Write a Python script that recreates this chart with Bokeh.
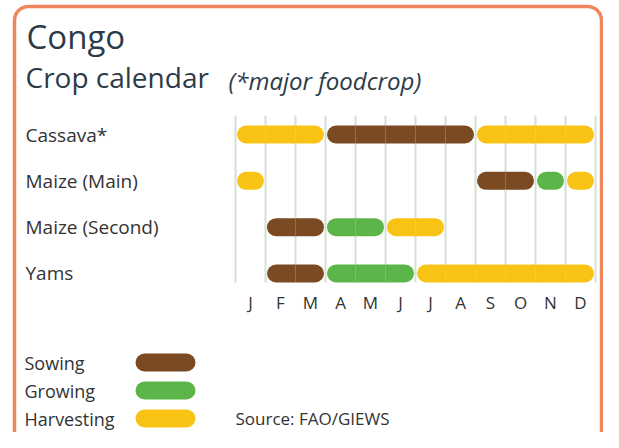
from bokeh.plotting import figure
from bokeh.models import Range1d, BoxAnnotation, ColumnDataSource
from bokeh.core.properties import value
from bokeh.embed import file_html
from bokeh.resources import INLINE

# ---------------- data ----------------
months = ["J", "F", "M", "A", "M", "J", "J", "A", "S", "O", "N", "D"]
crops = ["Cassava*", "Maize (Main)", "Maize (Second)", "Yams"]
stages = ["Sowing", "Growing", "Harvesting"]

seg_crop = [0, 0, 0, 1, 1, 1, 1, 2, 2, 2, 3, 3, 3]
seg_start = [0, 3, 8, 0, 8, 10, 11, 1, 3, 5, 1, 3, 6]
seg_end = [3, 8, 12, 1, 10, 11, 12, 3, 5, 7, 3, 6, 12]
seg_stage = ["Harvesting", "Sowing", "Harvesting",
             "Harvesting", "Sowing", "Growing", "Harvesting",
             "Sowing", "Growing", "Harvesting",
             "Sowing", "Growing", "Harvesting"]

title = "Congo"
subtitle = "Crop calendar"
note = "(*major foodcrop)"
source_text = "Source: FAO/GIEWS"

# ---------------- styling ----------------
stage_colors = {"Sowing": "#7b4a22", "Growing": "#5cb548", "Harvesting": "#f8c315"}
FONT = "Open Sans"
TXT = "#333333"
TITLE_C = "#2d3a48"

W, H = 603, 432
PX_PER_MONTH = 30.0
X0_PAGE = 235.0          # px of January's left edge
ROW_PX = 46.33
ROW0_PAGE = 134.0        # px of first row centre


def X(px):  # px -> month units
    return (px - X0_PAGE) / PX_PER_MONTH


def Y(py):  # px -> row units
    return (py - ROW0_PAGE) / ROW_PX


p = figure(width=W, height=H, output_backend="svg", toolbar_location=None,
           x_range=Range1d(X(0), X(W)), y_range=Range1d(Y(H), Y(0)),
           min_border=0)
p.axis.visible = False
p.grid.visible = False
p.outline_line_color = None
p.background_fill_color = "white"
p.border_fill_color = "white"

# rounded orange border
box = BoxAnnotation(left=X(14), right=X(601), top=Y(6), bottom=Y(470),
                    fill_color="white", fill_alpha=0.0,
                    line_color="#f0875c", line_alpha=1.0, line_width=3.5,
                    border_radius=14, level="underlay")
p.add_layout(box)

# vertical month grid
grid_x = list(range(len(months) + 1))
p.segment(x0=grid_x, x1=grid_x, y0=[Y(115)] * len(grid_x), y1=[Y(282)] * len(grid_x),
          line_color="#d2e2d2", line_width=2)

# bars as pills
cap = (9 + 1.5) / PX_PER_MONTH
src = ColumnDataSource(dict(
    x0=[s + cap for s in seg_start],
    x1=[e - cap for e in seg_end],
    y=seg_crop,
    color=[stage_colors[s] for s in seg_stage],
))
p.segment(x0="x0", x1="x1", y0="y", y1="y", line_color="color", line_width=18,
          line_cap="round", source=src)
# faint grid over bars
p.segment(x0=grid_x, x1=grid_x, y0=[Y(115)] * len(grid_x), y1=[Y(282)] * len(grid_x),
          line_color="#d2e2d2", line_width=1, line_alpha=0.25)

# row labels
p.text(x=[X(25)] * len(crops), y=list(range(len(crops))), text=crops,
       text_font=value(FONT), text_font_size="19px", text_color=TXT,
       text_baseline="middle", text_align="left")

# month labels
p.text(x=[i + 0.5 for i in range(len(months))], y=[Y(302)] * len(months), text=months,
       text_font=value(FONT), text_font_size="17px", text_color=TXT,
       text_baseline="middle", text_align="center")

# titles
p.text(x=[X(26)], y=[Y(36)], text=[title], text_font=value(FONT), text_font_size="33px",
       text_color=TITLE_C, text_baseline="middle", text_align="left")
p.text(x=[X(25)], y=[Y(76)], text=[subtitle], text_font=value(FONT), text_font_size="28px",
       text_color=TITLE_C, text_baseline="middle", text_align="left")
p.text(x=[X(228)], y=[Y(80)], text=[note], text_font=value(FONT), text_font_size="24px",
       text_font_style="italic", text_color=TITLE_C, text_baseline="middle", text_align="left")

# legend
leg_y = [Y(362), Y(390), Y(418)]
p.segment(x0=[X(135 + 9)] * 3, x1=[X(195 - 9)] * 3, y0=leg_y, y1=leg_y,
          line_color=[stage_colors[s] for s in stages], line_width=18, line_cap="round")
p.text(x=[X(24)] * 3, y=leg_y, text=stages, text_font=value(FONT), text_font_size="18px",
       text_color=TXT, text_baseline="middle", text_align="left")
p.text(x=[X(235)], y=[Y(418)], text=[source_text], text_font=value(FONT),
       text_font_size="17px", text_color=TXT, text_baseline="middle", text_align="left")

open("out.html", "w").write(file_html(p, INLINE))
